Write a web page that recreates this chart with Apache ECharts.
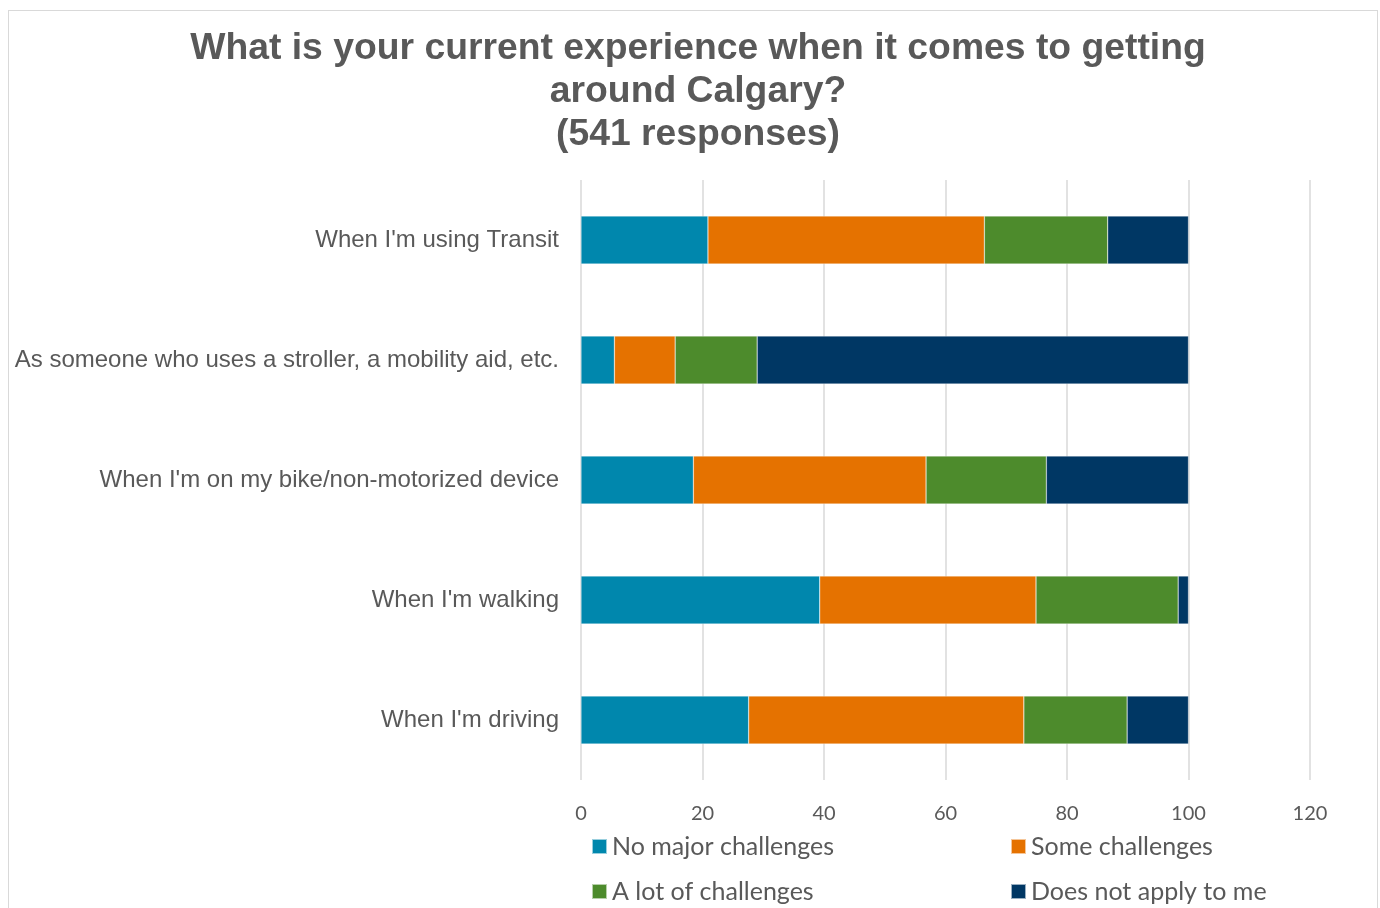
<!DOCTYPE html>
<html>
<head>
<meta charset="utf-8">
<script src="https://cdn.jsdelivr.net/npm/echarts@6/dist/echarts.min.js"></script>
<style>
  html, body { margin: 0; padding: 0; background: #ffffff; }
  #frame { position: absolute; left: 8px; top: 10px; width: 1370px; height: 920px; border: 1px solid #d9d9d9; box-sizing: border-box; }
  #chart { position: absolute; left: 0; top: 0; width: 1380px; height: 908px; }
</style>
</head>
<body>
<div id="frame"></div>
<div id="chart"></div>
<script>
// Survey situations (top to bottom)
const categories = [
  "When I'm using Transit",
  "As someone who uses a stroller, a mobility aid, etc.",
  "When I'm on my bike/non-motorized device",
  "When I'm walking",
  "When I'm driving"
];
const seriesNames = ["No major challenges", "Some challenges", "A lot of challenges", "Does not apply to me"];
// Share of responses (%) for each situation
const noMajor      = [20.9, 5.5, 18.5, 39.3, 27.6];
const someChall    = [45.5, 10.0, 38.3, 35.6, 45.3];
const aLotChall    = [20.3, 13.5, 19.8, 23.4, 17.0];
const notApply     = [13.3, 71.0, 23.4, 1.7, 10.1];
const xTicks = [0, 20, 40, 60, 80, 100, 120];

const colors = ["#0087ad", "#e57200", "#4d8b2c", "#003764"];
const values = [noMajor, someChall, aLotChall, notApply];

const chart = echarts.init(document.getElementById('chart'));

const legendPos = [
  { left: 591, top: 834 },
  { left: 1010, top: 834 },
  { left: 591, top: 879 },
  { left: 1010, top: 879 }
];

const option = {
  animation: false,
  color: colors,
  title: {
    text: "What is your current experience when it comes to getting\naround Calgary?\n(541 responses)",
    left: 698,
    textAlign: 'center',
    top: 27,
    padding: 0,
    textStyle: {
      fontFamily: 'Liberation Sans, Arial, sans-serif',
      fontWeight: 'bold',
      fontSize: 37.3,
      lineHeight: 43,
      color: '#595959'
    }
  },
  legend: seriesNames.map((name, i) => ({
    data: [name],
    left: legendPos[i].left,
    top: legendPos[i].top,
    padding: 0,
    itemWidth: 15,
    itemHeight: 15,
    itemGap: 6,
    icon: 'rect',
    selectedMode: false,
    textStyle: { fontFamily: 'Lato, sans-serif', fontSize: 25, color: '#595959', padding: [0, 0, 0, 0] }
  })),
  grid: { left: 581, right: 70, top: 180, bottom: 128, containLabel: false },
  xAxis: {
    type: 'value',
    min: 0,
    max: 120,
    interval: 20,
    axisLine: { show: false },
    axisTick: { show: false },
    axisLabel: {
      margin: 24,
      fontFamily: 'Lato, sans-serif',
      fontSize: 20,
      color: '#595959',
      formatter: v => xTicks.includes(v) ? String(v) : ''
    },
    splitLine: { lineStyle: { color: '#d9d9d9', width: 1.5 } }
  },
  yAxis: {
    type: 'category',
    data: categories,
    inverse: true,
    axisLine: { show: false },
    axisTick: { show: false },
    axisLabel: {
      margin: 22,
      fontFamily: 'Liberation Sans, Arial, sans-serif',
      fontSize: 24,
      color: '#595959',
      padding: [5, 0, 0, 0]
    }
  },
  series: seriesNames.map((name, i) => ({
    name: name,
    type: 'bar',
    stack: 'total',
    barWidth: '40%',
    data: values[i],
    itemStyle: { color: colors[i], borderColor: 'rgba(255,255,255,0.6)', borderWidth: 0.5 }
  }))
};

chart.setOption(option);
</script>
</body>
</html>
